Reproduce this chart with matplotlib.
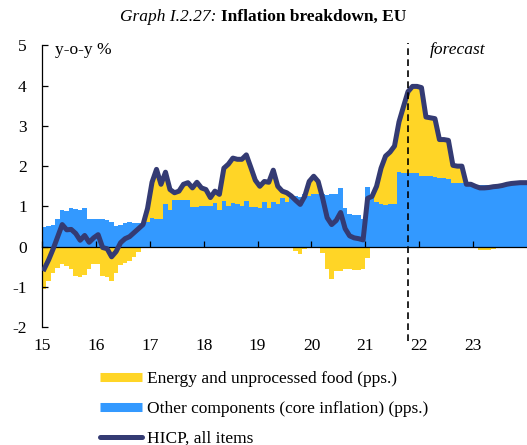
import numpy as np
import matplotlib.pyplot as plt
from matplotlib.lines import Line2D

# monthly data, Jan 2015 - Dec 2023 (y-o-y %, pps.)
year_labels = ["15", "16", "17", "18", "19", "20", "21", "22", "23"]

hicp = [
    -0.55, -0.32, -0.05, 0.25, 0.55, 0.42, 0.43, 0.33, 0.16, 0.28, 0.11, 0.22,
    0.30, -0.02, -0.05, -0.25, -0.12, 0.10, 0.20, 0.25, 0.35, 0.45, 0.55, 0.95,
    1.60, 1.92, 1.55, 1.85, 1.42, 1.34, 1.38, 1.55, 1.59, 1.46, 1.60, 1.46,
    1.42, 1.22, 1.38, 1.30, 1.95, 2.05, 2.20, 2.17, 2.17, 2.28, 1.97, 1.65,
    1.50, 1.62, 1.60, 1.90, 1.50, 1.38, 1.34, 1.26, 1.15, 1.05, 1.25, 1.62,
    1.75, 1.62, 1.20, 0.72, 0.55, 0.65, 0.85, 0.45, 0.27, 0.22, 0.20, 0.17,
    1.20, 1.25, 1.50, 1.95, 2.25, 2.35, 2.50, 3.10, 3.48, 3.85, 3.98, 3.98,
    3.95, 3.22, 3.20, 3.18, 2.66, 2.66, 2.64, 2.02, 2.00, 2.00, 1.55, 1.55,
    1.50, 1.46, 1.46, 1.47, 1.49, 1.50, 1.52, 1.55, 1.57, 1.58, 1.59, 1.59,
]

core = [
    0.50, 0.52, 0.53, 0.69, 0.92, 0.88, 0.95, 0.93, 0.92, 0.97, 0.68, 0.68,
    0.68, 0.70, 0.67, 0.62, 0.52, 0.55, 0.60, 0.62, 0.60, 0.58, 0.56, 0.62,
    0.72, 0.70, 0.68, 1.05, 0.90, 1.16, 1.16, 1.16, 1.15, 0.99, 0.99, 1.00,
    1.00, 1.00, 1.09, 0.90, 1.13, 1.00, 1.09, 1.07, 1.02, 1.13, 0.98, 0.98,
    0.97, 1.10, 0.97, 1.10, 1.05, 1.21, 1.10, 1.26, 1.26, 1.24, 1.30, 1.26,
    1.32, 1.32, 1.30, 1.28, 1.32, 1.30, 1.45, 0.95, 0.80, 0.79, 0.79, 0.70,
    1.49, 1.27, 1.10, 1.05, 1.04, 1.05, 1.07, 1.85, 1.83, 1.83, 1.83, 1.82,
    1.75, 1.75, 1.75, 1.74, 1.71, 1.71, 1.69, 1.59, 1.59, 1.58, 1.52, 1.52,
    1.53, 1.54, 1.54, 1.54, 1.53, 1.53, 1.54, 1.55, 1.56, 1.57, 1.58, 1.58,
]

energy = [
    -1.06, -0.85, -0.64, -0.52, -0.44, -0.48, -0.55, -0.73, -0.74, -0.69, -0.56, -0.44,
    -0.42, -0.72, -0.74, -0.85, -0.66, -0.46, -0.40, -0.36, -0.25, -0.12, -0.04, 0.33,
    0.88, 1.22, 0.87, 0.80, 0.52, 0.18, 0.22, 0.39, 0.44, 0.47, 0.61, 0.46,
    0.42, 0.22, 0.29, 0.40, 0.82, 1.05, 1.11, 1.10, 1.15, 1.15, 0.99, 0.67,
    0.53, 0.52, 0.63, 0.80, 0.45, 0.17, 0.24, 0.00, -0.10, -0.19, -0.05, 0.36,
    0.43, 0.30, -0.15, -0.56, -0.81, -0.60, -0.60, -0.55, -0.55, -0.57, -0.58, -0.55,
    -0.27, -0.03, 0.40, 0.90, 1.21, 1.30, 1.43, 1.25, 1.65, 2.02, 2.15, 2.16,
    2.20, 1.47, 1.45, 1.44, 0.95, 0.95, 0.95, 0.43, 0.41, 0.42, -0.02, -0.03,
    -0.03, -0.08, -0.08, -0.07, -0.05, -0.03, -0.02, 0.00, 0.01, 0.01, 0.01, 0.01,
]

legend_labels = [
    "Energy and unprocessed food (pps.)",
    "Other components (core inflation) (pps.)",
    "HICP, all items",
]

forecast_at = 2021 + 9.5 / 12   # last outturn, Oct 2021

yellow = "#FFD526"
blue = "#3399FF"
navy = "#343B73"
fs = 12.5

plt.rcParams["font.family"] = "Liberation Serif"
plt.rcParams["axes.unicode_minus"] = False

core = np.array(core)
energy = np.array(energy)
x = 2015 + (np.arange(len(hicp)) + 0.5) / 12

fig = plt.figure(figsize=(5.27, 4.45), dpi=100)
ax = fig.add_axes([0.0797, 0.2645, 0.9203, 0.6337])

ax.bar(x, core, width=1 / 12, color=blue, linewidth=0, antialiased=False, zorder=1)
ax.bar(
    x, energy, width=1 / 12,
    bottom=np.where(energy > 0, core, 0),
    color=yellow, linewidth=0, antialiased=False, zorder=1
)
ax.plot(x, hicp, color=navy, lw=3.6, solid_joinstyle="round", zorder=4)

ax.plot(
    [forecast_at, forecast_at], [-2.35, 5.05],
    color="black", lw=1.2, dashes=(4, 2.6), clip_on=False, zorder=5
)

ax.set_xlim(2015, 2024)
ax.set_ylim(-2, 5)

ax.spines[["top", "right"]].set_visible(False)
ax.spines["bottom"].set_position(("data", 0))
ax.spines["bottom"].set_zorder(3)
for s in ["left", "bottom"]:
    ax.spines[s].set_linewidth(0.9)

ax.set_xticks(range(2015, 2024))
ax.set_xticklabels(year_labels)
ax.set_yticks(range(-2, 6))
ax.tick_params(axis="x", direction="in", length=4, width=0.9, pad=66, labelsize=fs)
ax.tick_params(axis="y", direction="in", length=4, width=0.9, pad=11, labelsize=fs)

ax.text(0.027, 0.982, "y-o-y %", transform=ax.transAxes,
        ha="left", va="center", fontsize=fs)
ax.text(0.8, 0.982, "forecast", transform=ax.transAxes, style="italic",
        ha="left", va="center", fontsize=fs)

# title: italic prefix + bold text, centred together
t1 = fig.text(0, 0.962, "Graph I.2.27: ", style="italic", fontsize=fs, va="center")
t2 = fig.text(0, 0.962, "Inflation breakdown, EU", weight="bold", fontsize=fs, va="center")
r = fig.canvas.get_renderer()
w1 = t1.get_window_extent(r).width / fig.bbox.width
w2 = t2.get_window_extent(r).width / fig.bbox.width
x0 = 0.5 - (w1 + w2) / 2
t1.set_x(x0)
t2.set_x(x0 + w1)

handles = [
    Line2D([], [], color=yellow, lw=6.5, solid_capstyle="butt"),
    Line2D([], [], color=blue, lw=6.5, solid_capstyle="butt"),
    Line2D([], [], color=navy, lw=3.6, solid_capstyle="round"),
]
fig.legend(
    handles, legend_labels,
    loc="upper left", bbox_to_anchor=(0.19, 0.167),
    frameon=False, fontsize=fs,
    handlelength=2.4, handletextpad=0.3,
    labelspacing=0.8, borderpad=0, borderaxespad=0
)

fig.savefig("out.png", dpi=100)
plt.close(fig)
